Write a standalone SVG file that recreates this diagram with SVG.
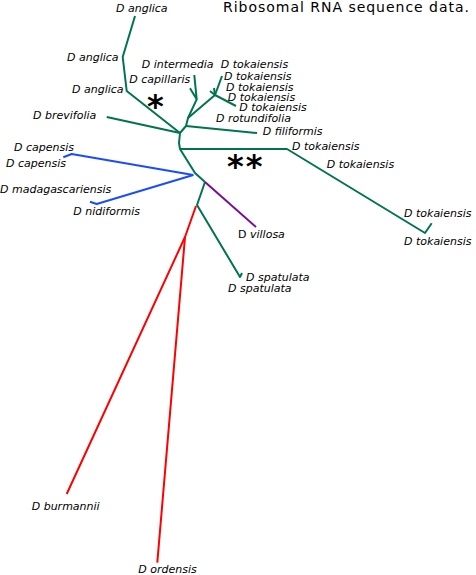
<svg xmlns="http://www.w3.org/2000/svg" width="476" height="575" viewBox="0 0 476 575">
<style>
.l{font-family:"DejaVu Sans",sans-serif;font-size:11px;font-style:italic;fill:#000}
.t{font-family:"DejaVu Sans",sans-serif;font-size:14px;fill:#000}
.a{font-family:"DejaVu Sans",sans-serif;font-size:32px;font-weight:bold;fill:#000}
.g{stroke:#00744f}
.b{stroke:#1a4cff}
.r{stroke:#ff0000}
.p{stroke:#7a0a9a}
path{fill:none;stroke-width:2;stroke-linejoin:round;stroke-linecap:butt}
</style>
<rect width="476" height="575" fill="#fff"/>
<g id="connectors">
<path class="g" d="M135,16 L122.7,57 L126.7,91 L180,133"/>
<path class="g" d="M106.7,117 L180,133"/>
<path class="g" d="M180,133 L186,126 L188,118 L196.7,99.3"/>
<path class="g" d="M186,126 L257,133"/>
<path class="g" d="M194.3,75 L196.7,99.3 L190,88.3"/>
<path class="g" d="M188,118 L215,95 L236,106"/>
<path class="g" d="M215,95 L222,76"/>
<path class="g" d="M215,95 L210,91"/>
<path class="g" d="M215,95 L214,88"/>
<path class="g" d="M180,133 L179,143 L180,149 L195,173 L205,182"/>
<path class="g" d="M180,149 L287,149 L425,233 L431.7,223.3"/>
<path class="g" d="M205,182 L197,205 L240,277 L242,273"/>
<path class="p" d="M205,182 L256,227"/>
<path class="b" d="M63.3,157.3 L71.7,154 L193.3,175"/>
<path class="b" d="M90,201.7 L96.7,204 L193.3,175"/>
<path class="r" d="M196,206 L185,237 L66.7,494"/>
<path class="r" d="M185,237 L157.3,562.7"/>
</g>
<g id="title"><text class="t" x="223" y="12" textLength="246" lengthAdjust="spacing">Ribosomal RNA sequence data.</text></g>
<g id="marks">
<text class="a" x="147" y="117">*</text>
<text class="a" x="227" y="177" letter-spacing="2">**</text>
</g>
<g id="n-anglica1"><text class="l" x="116" y="12">D anglica</text></g>
<g id="n-anglica2"><text class="l" x="67" y="61">D anglica</text></g>
<g id="n-anglica3"><text class="l" x="72" y="93">D anglica</text></g>
<g id="n-intermedia"><text class="l" x="141.7" y="68.3">D intermedia</text></g>
<g id="n-tok1"><text class="l" x="220.7" y="68.3">D tokaiensis</text></g>
<g id="n-capillaris"><text class="l" x="129.3" y="82.7">D capillaris</text></g>
<g id="n-tok2"><text class="l" x="224" y="79.5">D tokaiensis</text></g>
<g id="n-tok3"><text class="l" x="226" y="91">D tokaiensis</text></g>
<g id="n-tok4"><text class="l" x="227.7" y="100.5">D tokaiensis</text></g>
<g id="n-tok5"><text class="l" x="239.3" y="110.5">D tokaiensis</text></g>
<g id="n-rotundifolia"><text class="l" x="216" y="121.7">D rotundifolia</text></g>
<g id="n-filiformis"><text class="l" x="262.7" y="135">D filiformis</text></g>
<g id="n-brevifolia"><text class="l" x="33" y="119">D brevifolia</text></g>
<g id="n-tok6"><text class="l" x="292" y="149.5">D tokaiensis</text></g>
<g id="n-tok7"><text class="l" x="326.7" y="167.5">D tokaiensis</text></g>
<g id="n-tok8"><text class="l" x="404" y="217.3">D tokaiensis</text></g>
<g id="n-tok9"><text class="l" x="404" y="245">D tokaiensis</text></g>
<g id="n-capensis1"><text class="l" x="14" y="150.7">D capensis</text></g>
<g id="n-capensis2"><text class="l" x="6" y="166.7">D capensis</text></g>
<g id="n-madagascariensis"><text class="l" x="0" y="193.3">D madagascariensis</text></g>
<g id="n-nidiformis"><text class="l" x="73.3" y="215">D nidiformis</text></g>
<g id="n-villosa"><text class="l" x="238" y="238"><tspan font-style="normal">D</tspan> villosa</text></g>
<g id="n-spatulata1"><text class="l" x="246" y="281">D spatulata</text></g>
<g id="n-spatulata2"><text class="l" x="228" y="292">D spatulata</text></g>
<g id="n-burmannii"><text class="l" x="31.7" y="510">D burmannii</text></g>
<g id="n-ordensis"><text class="l" x="138.3" y="573.3">D ordensis</text></g>
</svg>
